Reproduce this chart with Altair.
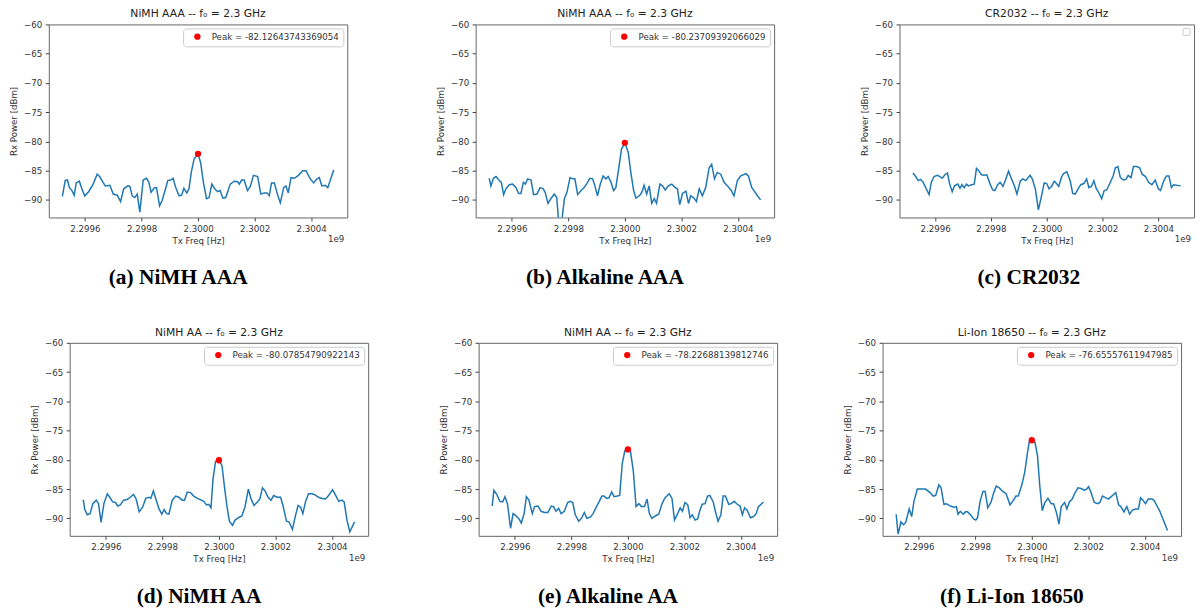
import altair as alt
import pandas as pd

F0_HZ = 2.3e9
X_DOMAIN = [2.299472e9, 2.300528e9]
Y_DOMAIN = [-93, -60]
X_TICKS = [2.2996e9, 2.2998e9, 2.3e9, 2.3002e9, 2.3004e9]
Y_TICKS = [-60, -65, -70, -75, -80, -85, -90]

# ---------------- (a) NiMH AAA ----------------
a_khz = [-480, -470, -462, -455, -446, -438, -431, -420, -411, -401, -387, -371, -357, -348, -336, -328,
         -312, -300, -286, -274, -263, -248, -241, -233, -224, -215, -206, -194, -182, -174, -166, -154,
         -147, -136, -127, -115, -107, -97, -88, -79, -67, -58, -50, -40, -32, -24, -14, 0, 9, 19, 30,
         39, 49, 59, 69, 78, 88, 98, 114, 128, 140, 146, 154, 163, 175, 185, 196, 211, 222, 234, 244,
         252, 260, 270, 282, 291, 303, 311, 319, 329, 341, 355, 370, 382, 397, 409, 421, 429, 438, 450,
         459, 480]
a_dbm = [-89.4, -86.7, -86.6, -87.9, -88.4, -89.2, -87.1, -86.8, -88.1, -89.3, -88.6, -87.3, -85.6, -86.0,
         -87.0, -87.6, -87.5, -89.0, -89.2, -90.3, -88.1, -87.6, -87.7, -89.3, -89.6, -89.0, -92.1, -86.6,
         -86.3, -87.0, -88.7, -87.9, -87.9, -91.0, -90.1, -88.1, -86.7, -86.6, -86.3, -87.9, -89.3, -89.2,
         -88.0, -88.8, -88.1, -85.3, -83.0, -82.12643743369054, -83.6, -87.0, -89.8, -89.6, -87.3, -88.1,
         -88.6, -88.4, -89.7, -89.6, -87.3, -86.8, -86.9, -87.3, -86.6, -86.6, -88.4, -87.7, -85.8, -86.0,
         -89.0, -88.8, -88.8, -89.3, -87.1, -87.1, -89.2, -90.5, -87.9, -87.6, -88.8, -86.2, -86.3, -85.8,
         -85.0, -85.0, -86.4, -87.1, -86.4, -86.2, -87.6, -87.5, -87.9, -84.9]

# ---------------- (b) Alkaline AAA ----------------
b_khz = [-480, -474, -465, -456, -446, -437, -429, -421, -409, -397, -385, -376, -368, -359, -352, -344,
         -332, -323, -311, -300, -289, -282, -272, -262, -250, -241, -230, -214, -205, -194, -185, -177,
         -167, -155, -144, -132, -124, -114, -106, -97, -87, -77, -67, -59, -49, -40, -32, -22, -12, 0,
         12, 21, 31, 39, 51, 60, 68, 77, 86, 95, 104, 112, 124, 133, 143, 154, 166, 178, 186, 194, 204,
         216, 225, 233, 245, 253, 263, 274, 286, 298, 307, 317, 327, 339, 351, 363, 375, 386, 398, 410,
         428, 437, 449, 461, 469, 480]
b_dbm = [-86.3, -87.6, -86.3, -86.0, -86.6, -87.0, -89.1, -88.1, -87.4, -87.3, -87.9, -88.9, -88.9, -87.0,
         -87.3, -86.4, -86.6, -89.1, -89.0, -87.9, -88.1, -88.7, -90.6, -89.8, -89.0, -89.6, -96.5, -89.8,
         -88.7, -86.2, -86.4, -86.4, -89.1, -88.4, -87.9, -87.0, -86.3, -86.4, -87.6, -89.3, -87.3, -85.9,
         -86.4, -86.0, -87.0, -88.4, -87.9, -84.7, -81.3, -80.23709392066029, -81.9, -85.3, -88.4, -89.7,
         -89.3, -88.7, -87.5, -89.0, -87.6, -90.6, -89.8, -90.6, -87.3, -87.6, -88.3, -87.6, -87.3, -87.9,
         -88.1, -90.8, -88.9, -88.5, -90.6, -89.3, -89.7, -90.3, -88.1, -89.3, -87.9, -84.5, -83.9, -86.4,
         -85.3, -85.6, -87.0, -87.6, -88.3, -89.3, -86.7, -85.9, -85.5, -85.9, -87.9, -88.7, -89.3, -90.0]

# ---------------- (c) CR2032 ----------------
c_khz = [-480, -470, -461, -452, -443, -432, -422, -414, -404, -392, -383, -375, -365, -356, -348, -339,
         -331, -319, -311, -304, -296, -288, -281, -269, -260, -252, -244, -234, -225, -215, -203, -194,
         -186, -176, -167, -157, -148, -137, -128, -116, -107, -95, -86, -75, -60, -52, -41, -30, -20, -9,
         0, 8, 17, 27, 35, 43, 52, 60, 72, 84, 93, 102, 114, 122, 133, 143, 151, 160, 169, 177, 188, 197,
         206, 215, 226, 238, 246, 255, 264, 275, 284, 292, 302, 311, 322, 333, 342, 354, 365, 377, 389,
         400, 408, 420, 429, 438, 447, 455, 480]
c_dbm = [-85.4, -86.0, -86.7, -86.5, -87.0, -88.1, -89.1, -87.0, -86.0, -85.8, -86.0, -86.3, -85.7, -85.4,
         -87.3, -88.6, -87.6, -87.3, -88.0, -87.4, -87.9, -87.3, -87.6, -87.4, -87.3, -84.6, -85.0, -85.7,
         -85.8, -85.7, -87.3, -88.3, -88.4, -87.4, -87.0, -87.7, -86.6, -85.1, -86.2, -87.6, -89.0, -86.8,
         -86.4, -86.7, -85.8, -86.4, -88.1, -91.7, -89.6, -87.1, -87.2, -88.1, -87.7, -86.8, -87.2, -87.7,
         -86.2, -85.5, -85.2, -86.7, -88.9, -89.0, -88.0, -87.4, -87.2, -86.4, -87.9, -87.7, -86.7, -88.0,
         -88.9, -89.8, -88.4, -88.3, -87.2, -85.9, -84.5, -84.3, -86.2, -86.6, -86.5, -85.8, -86.2, -84.3,
         -84.3, -84.5, -85.6, -86.0, -87.0, -87.4, -86.6, -88.1, -88.4, -86.7, -85.9, -85.9, -87.9, -87.4,
         -87.6]

# ---------------- (d) NiMH AA ----------------
d_khz = [-480, -475, -466, -456, -446, -434, -426, -417, -407, -395, -386, -376, -366, -358, -349, -337,
         -325, -314, -302, -293, -282, -270, -259, -247, -241, -232, -223, -212, -202, -194, -185, -177,
         -165, -153, -142, -130, -122, -112, -101, -89, -77, -66, -54, -44, -36, -28, -21, -12, 0, 11, 19,
         28, 37, 48, 57, 69, 81, 92, 104, 113, 124, 136, 145, 154, 163, 174, 184, 194, 206, 218, 227, 239,
         248, 260, 271, 280, 289, 297, 306, 317, 329, 340, 352, 365, 377, 388, 402, 412, 424, 435, 443,
         453, 463, 480]
d_dbm = [-86.8, -88.4, -89.4, -89.2, -87.5, -86.9, -87.5, -90.7, -87.5, -85.8, -86.4, -87.2, -87.3, -87.9,
         -87.7, -86.9, -86.8, -86.4, -85.9, -86.7, -88.9, -88.1, -86.6, -86.4, -86.6, -85.3, -86.7, -88.4,
         -89.3, -88.5, -89.2, -89.3, -86.9, -86.2, -86.4, -86.9, -86.9, -85.5, -85.6, -86.2, -86.6, -86.8,
         -87.1, -87.7, -87.6, -88.2, -83.3, -80.3, -80.07854790922143, -81.0, -84.4, -87.8, -90.5, -91.2,
         -90.3, -89.9, -89.6, -88.1, -85.0, -86.6, -87.8, -87.2, -86.7, -84.8, -85.3, -86.4, -86.9, -86.1,
         -86.4, -86.4, -87.9, -90.5, -90.6, -91.9, -89.5, -87.8, -88.1, -89.2, -87.2, -85.8, -85.8, -86.0,
         -86.4, -86.6, -86.7, -86.1, -85.1, -86.0, -87.1, -86.9, -87.2, -90.3, -92.3, -90.6]

# ---------------- (e) Alkaline AA ----------------
e_khz = [-480, -474, -464, -453, -443, -435, -426, -415, -406, -397, -385, -377, -367, -359, -350, -338,
         -330, -318, -307, -295, -283, -271, -263, -254, -245, -236, -225, -213, -204, -195, -186, -174,
         -164, -154, -145, -133, -123, -111, -102, -92, -84, -75, -67, -57, -49, -37, -29, -20, -11, 0, 9,
         19, 29, 39, 48, 59, 68, 76, 85, 97, 109, 121, 130, 138, 146, 156, 165, 176, 185, 193, 202, 212,
         220, 228, 238, 247, 255, 263, 273, 282, 290, 302, 310, 319, 329, 337, 345, 357, 366, 376, 387,
         397, 405, 413, 422, 434, 445, 454, 462, 480]
e_dbm = [-87.9, -85.2, -85.9, -87.1, -87.2, -86.3, -87.5, -91.7, -89.2, -89.5, -90.1, -90.8, -89.2, -86.3,
         -86.9, -89.2, -88.0, -87.9, -88.8, -89.0, -89.0, -87.9, -88.0, -88.8, -88.3, -89.2, -88.8, -87.3,
         -87.1, -87.3, -89.4, -90.5, -90.0, -89.0, -90.0, -89.8, -89.2, -88.0, -87.2, -86.2, -86.2, -86.6,
         -86.5, -85.5, -86.3, -86.2, -86.1, -80.7, -78.5, -78.22688139812746, -78.5, -81.8, -88.0, -87.5,
         -88.0, -88.0, -86.7, -89.2, -90.0, -89.6, -89.3, -87.5, -86.6, -86.2, -85.8, -86.6, -90.3, -89.2,
         -88.2, -88.8, -87.3, -87.7, -89.9, -89.4, -90.3, -90.1, -88.6, -87.6, -87.5, -86.2, -86.1, -87.2,
         -88.9, -90.5, -89.4, -86.2, -86.2, -87.6, -87.5, -87.1, -87.6, -87.9, -89.4, -88.2, -88.6, -89.9,
         -89.7, -89.2, -88.0, -87.2]

# ---------------- (f) Li-Ion 18650 ----------------
f_khz = [-480, -473, -463, -454, -446, -434, -425, -417, -405, -393, -376, -360, -349, -340, -329, -321,
         -311, -302, -288, -276, -267, -261, -253, -243, -235, -227, -215, -206, -198, -192, -183, -173,
         -165, -156, -144, -136, -126, -115, -103, -91, -77, -68, -56, -48, -36, -25, -16, -9, 0, 11, 20,
         28, 37, 46, 57, 69, 77, 87, 96, 104, 116, 124, 133, 143, 151, 163, 174, 186, 194, 201, 209, 221,
         233, 241, 250, 262, 271, 283, 297, 307, 315, 326, 336, 346, 356, 367, 377, 385, 393, 402, 412,
         424, 432, 443, 453, 480]
f_dbm = [-89.3, -92.7, -90.6, -91.1, -90.7, -88.4, -89.7, -87.1, -85.0, -85.0, -85.0, -85.6, -86.2, -86.1,
         -84.3, -84.8, -87.6, -87.5, -87.9, -88.1, -88.0, -89.3, -88.8, -89.3, -88.9, -88.9, -89.5, -90.1,
         -90.3, -89.9, -87.1, -85.4, -85.4, -88.2, -87.2, -85.8, -84.5, -84.8, -85.4, -85.8, -87.7, -87.1,
         -86.2, -86.2, -84.4, -82.1, -79.0, -76.9, -76.65557611947985, -77.0, -79.3, -84.4, -88.7, -87.3,
         -86.6, -87.5, -87.5, -89.0, -91.0, -88.0, -87.3, -88.4, -87.2, -86.7, -85.8, -84.8, -84.9, -85.2,
         -85.0, -84.6, -85.5, -87.3, -87.5, -87.3, -86.2, -86.5, -86.7, -86.2, -85.6, -87.7, -88.0, -88.9,
         -88.0, -89.3, -88.6, -88.4, -88.4, -86.5, -86.9, -87.5, -86.7, -86.7, -86.9, -87.9, -88.8, -92.1]

panel_titles = ["NiMH AAA -- f\u2080 = 2.3 GHz", "NiMH AAA -- f\u2080 = 2.3 GHz", "CR2032 -- f\u2080 = 2.3 GHz",
                "NiMH AA -- f\u2080 = 2.3 GHz", "NiMH AA -- f\u2080 = 2.3 GHz", "Li-Ion 18650 -- f\u2080 = 2.3 GHz"]
captions = ["(a) NiMH AAA", "(b) Alkaline AAA", "(c) CR2032", "(d) NiMH AA", "(e) Alkaline AA", "(f) Li-Ion 18650"]
peaks = [-82.12643743369054, -80.23709392066029, None, -80.07854790922143, -78.22688139812746, -76.65557611947985]

H = 194
FONT = "DejaVu Sans"
TXT = "#333333"


def one(text):
    return pd.DataFrame({"t": [text]})


def panel(khz, dbm, peak, title, caption, W, left, bottom):
    df = pd.DataFrame({"freq": [F0_HZ + k * 1e3 for k in khz], "rx": dbm})
    x = alt.X("freq:Q", scale=alt.Scale(domain=X_DOMAIN, nice=False, zero=False),
              axis=alt.Axis(title="Tx Freq [Hz]", values=X_TICKS, labelFlush=False,
                            labelExpr="format(datum.value / 1e9, '.4f')"))
    y = alt.Y("rx:Q", scale=alt.Scale(domain=Y_DOMAIN, nice=False, zero=False),
              axis=alt.Axis(title="Rx Power [dBm]", values=Y_TICKS, labelFlush=False,
                            labelExpr="replace(format(datum.value, 'd'), '-', '\u2212')"))
    layers = [alt.Chart(df).mark_line(color="#1f77b4", strokeWidth=1.5, clip=True).encode(x=x, y=y)]
    if peak is not None:
        lab = f"Peak = {peak}"
        pk = pd.DataFrame({"freq": [F0_HZ], "rx": [peak], "lab": [lab]})
        layers.append(alt.Chart(pk).mark_point(filled=True, size=40, opacity=1).encode(
            x=x, y=y,
            color=alt.Color("lab:N", scale=alt.Scale(domain=[lab], range=["#ff0000"]),
                            legend=alt.Legend(title=None, orient="top-right", offset=4,
                                              fillColor="white", strokeColor="#cccccc",
                                              cornerRadius=3, padding=4, symbolType="circle",
                                              symbolSize=40, symbolOffset=6, labelOffset=10,
                                              symbolStrokeWidth=0, labelFont=FONT,
                                              labelFontSize=8.7, labelColor=TXT, labelLimit=400))))
    else:
        layers.append(alt.Chart(one("")).mark_rect(fill="white", stroke="#cccccc", strokeWidth=1,
                                                   cornerRadius=1).encode(
            x=alt.value(W - 11), x2=alt.value(W - 4), y=alt.value(4), y2=alt.value(11)))
    # panel title (above the plot)
    layers.append(alt.Chart(one(title)).mark_text(
        font=FONT, fontSize=10.8, color="#222222", align="center", baseline="middle").encode(
        x=alt.value(W / 2), y=alt.value(-10), text="t:N"))
    # axis offset text
    layers.append(alt.Chart(one("1e9")).mark_text(
        font=FONT, fontSize=8.7, color=TXT, align="right", baseline="middle").encode(
        x=alt.value(W - 3), y=alt.value(H + 22), text="t:N"))
    # sub-figure caption
    layers.append(alt.Chart(one(caption)).mark_text(
        font="Liberation Serif", fontWeight="bold", fontSize=21.5, color="#000000",
        align="center", baseline="middle").encode(
        x=alt.value(130), y=alt.value(H + 61), text="t:N"))
    # invisible layout anchor (left extent; bottom extent for the top row)
    layers.append(alt.Chart(one("")).mark_rect(fill="white", strokeWidth=0).encode(
        x=alt.value(-left), x2=alt.value(-left), y=alt.value(0), y2=alt.value(bottom)))
    return alt.layer(*layers).properties(width=W, height=H)


def spacer(w):
    return alt.Chart(one("")).mark_rect(opacity=0).encode(
        x=alt.value(0), x2=alt.value(0), y=alt.value(0), y2=alt.value(0)).properties(
        width=w, height=1, view=alt.ViewBackground(stroke="transparent", strokeWidth=0))


series = [(a_khz, a_dbm), (b_khz, b_dbm), (c_khz, c_dbm), (d_khz, d_dbm), (e_khz, e_dbm), (f_khz, f_dbm)]
widths = [300, 300, 296, 300, 300, 300]
lefts = [39, 127, 124, 39, 109, 104]
bottoms = [H + 108] * 3 + [0] * 3

panels = [panel(s[0], s[1], peaks[i], panel_titles[i], captions[i], widths[i], lefts[i], bottoms[i])
          for i, s in enumerate(series)]

row1 = alt.hconcat(spacer(1), *panels[:3], spacing=0).resolve_scale(color="independent").resolve_legend(
    color="independent")
row2 = alt.hconcat(spacer(22), *panels[3:], spacing=0).resolve_scale(color="independent").resolve_legend(
    color="independent")

chart = alt.vconcat(row1, row2, spacing=0).resolve_scale(color="independent").resolve_legend(
    color="independent").properties(
    padding={"left": 0, "top": -2, "right": 0, "bottom": 0}).configure_view(
    stroke="#666666", strokeWidth=1).configure_axis(
    domain=False, grid=False, tickColor="#444444", tickSize=3.5, tickWidth=1, labelFont=FONT,
    labelFontSize=8.7, labelColor=TXT, labelPadding=3.5, titleFont=FONT, titleFontSize=8.7,
    titleFontWeight="normal", titleColor=TXT).configure_axisX(titlePadding=3).configure_axisY(titlePadding=5)

chart.save("out.html", embed_options={"renderer": "svg", "actions": False})
